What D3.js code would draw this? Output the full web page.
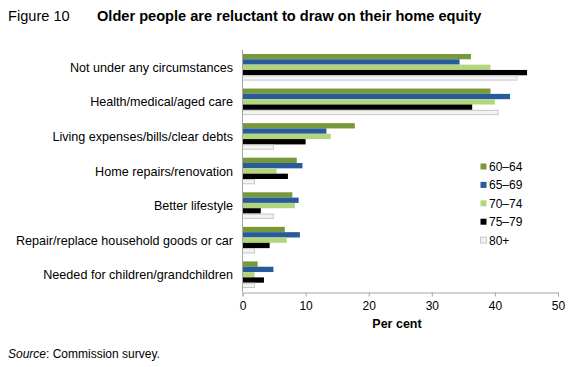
<!DOCTYPE html>
<html>
<head>
<meta charset="utf-8">
<script src="https://cdn.jsdelivr.net/npm/d3@7"></script>
<style>
  body { margin: 0; background: #fff; }
  text { font-family: Arial, "Liberation Sans", sans-serif; }
</style>
</head>
<body>
<script>
// chart data
var categories = ["Not under any circumstances", "Health/medical/aged care",
  "Living expenses/bills/clear debts", "Home repairs/renovation", "Better lifestyle",
  "Repair/replace household goods or car", "Needed for children/grandchildren"];
var ageGroups = ["60\u201364", "65\u201369", "70\u201374", "75\u201379", "80+"];
var v6064 = [36.2, 39.3, 17.8, 8.6, 7.9, 6.7, 2.4];
var v6569 = [34.4, 42.4, 13.3, 9.5, 8.9, 9.1, 4.9];
var v7074 = [39.3, 40.0, 14.0, 5.4, 8.3, 7.0, 1.9];
var v7579 = [45.1, 36.4, 10.0, 7.2, 2.9, 4.3, 3.4];
var v80 = [43.5, 40.5, 4.9, 1.9, 4.9, 1.9, 1.9];
var xTicks = [0, 10, 20, 30, 40, 50];

var series = [v6064, v6569, v7074, v7579, v80];
var colors = ["#77993b", "#285b9c", "#b3d67d", "#000000", "#f2f2f2"];
var strokes = [null, null, null, null, "#c8c8c8"];

var svg = d3.select("body").append("svg")
  .attr("width", 572).attr("height", 367);

var x = d3.scaleLinear().domain([0, 50]).range([242.5, 558]);
var y = d3.scaleBand().domain(categories).range([50, 292]).paddingInner(0.23).paddingOuter(0.115);
var ySub = d3.scaleBand().domain(d3.range(5)).range([0, y.bandwidth()]);

// title
svg.append("text").attr("x", 8).attr("y", 21).style("font-size", "14.6px").text("Figure 10");
svg.append("text").attr("x", 97).attr("y", 21).style("font-size", "14.6px")
  .style("font-weight", "bold").text("Older people are reluctant to draw on their home equity");

// bars
series.forEach(function(vals, s) {
  svg.append("g").selectAll("rect")
    .data(vals)
    .join("rect")
    .attr("x", x(0))
    .attr("y", (d, i) => y(categories[i]) + ySub(s) + (strokes[s] ? 0.5 : 0))
    .attr("width", d => x(d) - x(0))
    .attr("height", ySub.bandwidth() - (strokes[s] ? 1 : 0))
    .attr("fill", colors[s])
    .attr("stroke", strokes[s] || "none")
    .attr("stroke-width", 1);
});

// y axis line
svg.append("line").attr("x1", 242.5).attr("x2", 242.5).attr("y1", 50).attr("y2", 292)
  .attr("stroke", "#a6a6a6");

// category labels
svg.append("g").selectAll("text")
  .data(categories)
  .join("text")
  .attr("x", 233)
  .attr("y", d => y(d) + y.bandwidth() / 2 + 4.5)
  .attr("text-anchor", "end")
  .style("font-size", "12.6px")
  .text(d => d);

// x axis
var xAxis = svg.append("g")
  .attr("transform", "translate(0,292.5)")
  .call(d3.axisBottom(x).tickValues(xTicks).tickSize(4).tickPadding(5).tickFormat(d3.format("d")));
xAxis.select(".domain").attr("stroke", "#a6a6a6");
xAxis.selectAll(".tick line").attr("stroke", "#a6a6a6");
xAxis.selectAll(".tick text").style("font-size", "12px").style("font-family", "Arial").attr("fill", "#000");

svg.append("text").attr("x", 397).attr("y", 328).attr("text-anchor", "middle")
  .style("font-size", "12.5px").style("font-weight", "bold").text("Per cent");

// legend
var leg = svg.append("g").selectAll("g")
  .data(ageGroups)
  .join("g")
  .attr("transform", (d, i) => "translate(480," + (163 + i * 18.4) + ")");
leg.append("rect")
  .attr("x", 0.5).attr("y", 0.5).attr("width", 6).attr("height", 6)
  .attr("fill", (d, i) => colors[i])
  .attr("stroke", (d, i) => strokes[i] || "none");
leg.append("text").attr("x", 9).attr("y", 8)
  .style("font-size", "12px").text(d => d);

// source
var src = svg.append("text").attr("x", 8).attr("y", 358).style("font-size", "12px");
src.append("tspan").style("font-style", "italic").text("Source");
src.append("tspan").text(": Commission survey.");
</script>
</body>
</html>
